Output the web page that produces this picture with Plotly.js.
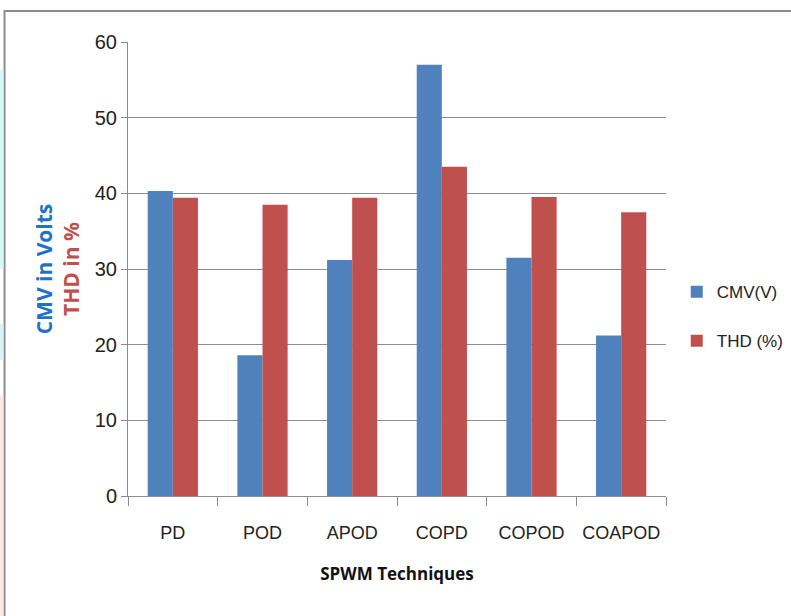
<!DOCTYPE html>
<html><head><meta charset="utf-8">
<script src="https://cdn.plot.ly/plotly-3.0.1.min.js"></script>
<style>html,body{margin:0;padding:0;background:#fff}#chart{width:791px;height:616px}</style>
</head><body><div id="chart"></div>
<script>
const categories = ["PD","POD","APOD","COPD","COPOD","COAPOD"];
const cmv = [40.3, 18.6, 31.2, 57.0, 31.5, 21.2];
const thd = [39.4, 38.5, 39.4, 43.5, 39.5, 37.5];
const yTicks = [0,10,20,30,40,50,60];

const FONT = "Liberation Sans Narrow, Liberation Sans, Arial, sans-serif";
const BOLD = "Open Sans, Liberation Sans, Arial, sans-serif";

const traces = [
  {type:"bar", name:"CMV(V)", x:categories, y:cmv, marker:{color:"#4f81bd"}, legendgroup:"a"},
  {type:"bar", name:"THD (%)", x:categories, y:thd, marker:{color:"#c0504d"}, legendgroup:"b"}
];

const layout = {
  width:791, height:616,
  margin:{l:128, r:125, t:42, b:120, autoexpand:false},
  paper_bgcolor:"#fff", plot_bgcolor:"#fff",
  barmode:"group", bargap:0.44, bargroupgap:0,
  font:{family:FONT, size:19, color:"#222"},
  xaxis:{
    type:"category", showgrid:false, showline:true, linecolor:"#8c8c8c", linewidth:1,
    ticks:"outside", tickson:"boundaries", ticklen:9, tickcolor:"#8c8c8c", tickangle:0,
    ticklabelstandoff:20, automargin:false,
    tickfont:{family:FONT, size:18, color:"#222"},
    title:{text:"<b>SPWM Techniques</b>", font:{family:BOLD, size:17, color:"#111"}, standoff:26}
  },
  yaxis:{
    range:[0,60], tickvals:yTicks, ticktext:yTicks.map(String),
    showgrid:true, gridcolor:"#8c8c8c", gridwidth:1, automargin:false,
    showline:true, linecolor:"#8c8c8c", zeroline:false,
    ticks:"outside", ticklen:6, tickcolor:"#8c8c8c",
    tickfont:{family:FONT, size:20, color:"#222"},
    title:{text:"<span style='color:#1f72c4'><b>CMV in Volts</b></span><br><span style='color:#c0504d'><b>THD in %</b></span>",
           font:{family:BOLD, size:21}, standoff:9}
  },
  legend:{x:1.02, xanchor:"left", y:0.395, yanchor:"middle", font:{family:FONT, size:17, color:"#222"},
          tracegroupgap:24, itemwidth:30, bgcolor:"rgba(0,0,0,0)"},
  shapes:[
    {type:"rect", xref:"paper", yref:"paper", x0:-0.2295, x1:1.3, y0:-0.3, y1:1.0683, line:{color:"#8c8c8c", width:2}, fillcolor:"rgba(0,0,0,0)", layer:"below"},
    {type:"rect", xref:"paper", yref:"paper", x0:-0.2388, x1:-0.2315, y0:0.5, y1:0.94, line:{width:0}, fillcolor:"#d9f8fa", layer:"below"},
    {type:"rect", xref:"paper", yref:"paper", x0:-0.2388, x1:-0.2315, y0:0.3, y1:0.38, line:{width:0}, fillcolor:"#d9f2fa", layer:"below"},
    {type:"rect", xref:"paper", yref:"paper", x0:-0.2388, x1:-0.2315, y0:-0.265, y1:0.22, line:{width:0}, fillcolor:"#fde6e6", layer:"below"}
  ]
};

Plotly.newPlot("chart", traces, layout, {displayModeBar:false, staticPlot:true});
</script></body></html>
